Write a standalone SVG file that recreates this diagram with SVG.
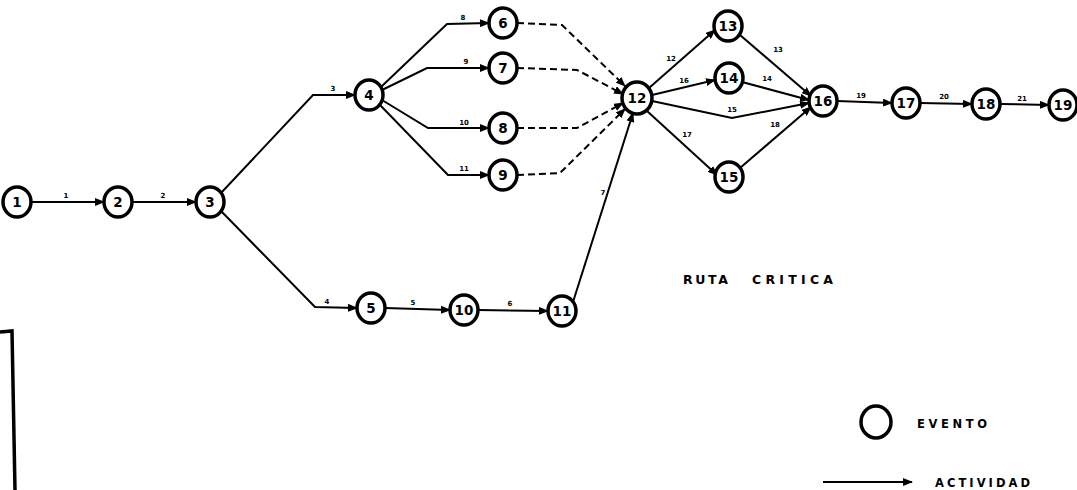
<svg xmlns="http://www.w3.org/2000/svg" width="1077" height="490" viewBox="0 0 1077 490">
<style>
.node ellipse{fill:#fff;stroke:#000;stroke-width:3.5}
.node text{font-family:"DejaVu Sans","Liberation Sans",sans-serif;font-weight:bold;font-size:13.5px;text-anchor:middle;fill:#000}
.edge{fill:none;stroke:#000;stroke-width:2;marker-end:url(#ah)}
.dash{fill:none;stroke:#000;stroke-width:2;stroke-dasharray:7 4;marker-end:url(#ah)}
.lbl{font-family:"DejaVu Sans","Liberation Sans",sans-serif;font-weight:bold;font-size:7px;text-anchor:middle;fill:#000}
.big{font-family:"DejaVu Sans","Liberation Sans",sans-serif;font-weight:bold;fill:#000}
</style>
<defs>
<marker id="ah" markerWidth="10" markerHeight="8" refX="9" refY="4" orient="auto" markerUnits="userSpaceOnUse">
<path d="M0,0 L10,4 L0,8 Z" fill="#000"/>
</marker>
</defs>
<rect width="1077" height="490" fill="#fff"/>
<g id="connectors">
<path class="edge" d="M31,202 L104,202"/>
<path class="edge" d="M132,202 L196,202"/>
<path class="edge" d="M221,193 L313,95 L355,95"/>
<path class="edge" d="M221,211 L315,307 L357,308"/>
<path class="edge" d="M385,308 L450,310"/>
<path class="edge" d="M478,310 L548,311"/>
<path class="edge" d="M573,302 L633,113"/>
<path class="edge" d="M381,87 L447,24 L489,23"/>
<path class="edge" d="M382,90 L427,68 L489,68"/>
<path class="edge" d="M382,100 L428,128 L489,128"/>
<path class="edge" d="M380,105 L448,175 L489,175"/>
<path class="dash" d="M517,23 L562,25 L625,86"/>
<path class="dash" d="M517,68 L577,70 L623,94"/>
<path class="dash" d="M517,128 L577,128 L623,103"/>
<path class="dash" d="M517,175 L560,173 L625,109"/>
<path class="edge" d="M649,88 L715,30"/>
<path class="edge" d="M652,95 L715,80"/>
<path class="edge" d="M652,101 L732,118 L809,103"/>
<path class="edge" d="M647,111 L717,175"/>
<path class="edge" d="M740,35 L811,96"/>
<path class="edge" d="M742,82 L809,100"/>
<path class="edge" d="M740,168 L811,107"/>
<path class="edge" d="M837,101 L892,103"/>
<path class="edge" d="M920,103 L972,104"/>
<path class="edge" d="M1000,104 L1049,105"/>
<text class="lbl" x="66" y="198">1</text>
<text class="lbl" x="163" y="198">2</text>
<text class="lbl" x="333" y="91">3</text>
<text class="lbl" x="327" y="304">4</text>
<text class="lbl" x="413" y="305">5</text>
<text class="lbl" x="510" y="306">6</text>
<text class="lbl" x="603" y="195">7</text>
<text class="lbl" x="463" y="20">8</text>
<text class="lbl" x="466" y="64">9</text>
<text class="lbl" x="464" y="125">10</text>
<text class="lbl" x="464" y="171">11</text>
<text class="lbl" x="671" y="61">12</text>
<text class="lbl" x="684" y="83">16</text>
<text class="lbl" x="732" y="112">15</text>
<text class="lbl" x="687" y="137">17</text>
<text class="lbl" x="778" y="52">13</text>
<text class="lbl" x="767" y="81">14</text>
<text class="lbl" x="775" y="127">18</text>
<text class="lbl" x="861" y="98">19</text>
<text class="lbl" x="944" y="99">20</text>
<text class="lbl" x="1022" y="101">21</text>
</g>
<g id="n1" class="node"><ellipse cx="17" cy="202" rx="14" ry="15"/><text x="17" y="207">1</text></g>
<g id="n2" class="node"><ellipse cx="118" cy="202" rx="14" ry="15"/><text x="118" y="207">2</text></g>
<g id="n3" class="node"><ellipse cx="210" cy="202" rx="14" ry="15"/><text x="210" y="207">3</text></g>
<g id="n4" class="node"><ellipse cx="369" cy="95" rx="14" ry="15"/><text x="369" y="100">4</text></g>
<g id="n5" class="node"><ellipse cx="371" cy="308" rx="14" ry="15"/><text x="371" y="313">5</text></g>
<g id="n6" class="node"><ellipse cx="503" cy="23" rx="14" ry="15"/><text x="503" y="28">6</text></g>
<g id="n7" class="node"><ellipse cx="503" cy="68" rx="14" ry="15"/><text x="503" y="73">7</text></g>
<g id="n8" class="node"><ellipse cx="503" cy="128" rx="14" ry="15"/><text x="503" y="133">8</text></g>
<g id="n9" class="node"><ellipse cx="503" cy="175" rx="14" ry="15"/><text x="503" y="180">9</text></g>
<g id="n10" class="node"><ellipse cx="464" cy="310" rx="14" ry="15"/><text x="464" y="315">10</text></g>
<g id="n11" class="node"><ellipse cx="562" cy="311" rx="14" ry="15"/><text x="562" y="316">11</text></g>
<g id="n12" class="node"><ellipse cx="637" cy="98" rx="15" ry="16"/><text x="637" y="103">12</text></g>
<g id="n13" class="node"><ellipse cx="728" cy="26" rx="14" ry="15"/><text x="728" y="31">13</text></g>
<g id="n14" class="node"><ellipse cx="729" cy="78" rx="14" ry="15"/><text x="729" y="83">14</text></g>
<g id="n15" class="node"><ellipse cx="729" cy="177" rx="14" ry="15"/><text x="729" y="182">15</text></g>
<g id="n16" class="node"><ellipse cx="823" cy="101" rx="14" ry="15"/><text x="823" y="106">16</text></g>
<g id="n17" class="node"><ellipse cx="906" cy="103" rx="14" ry="15"/><text x="906" y="108">17</text></g>
<g id="n18" class="node"><ellipse cx="986" cy="104" rx="14" ry="15"/><text x="986" y="109">18</text></g>
<g id="n19" class="node"><ellipse cx="1063" cy="105" rx="14" ry="15"/><text x="1063" y="110">19</text></g>
<g id="title">
<text class="big" x="683" y="284" font-size="12.5" textLength="45" lengthAdjust="spacing">RUTA</text>
<text class="big" x="752" y="284" font-size="12.5" textLength="81" lengthAdjust="spacing">CRITICA</text>
</g>
<g id="legend">
<ellipse cx="876" cy="422" rx="15" ry="16" fill="none" stroke="#000" stroke-width="3.5"/>
<text class="big" x="917" y="428" font-size="11.5" textLength="70" lengthAdjust="spacing">EVENTO</text>
<path class="edge" d="M823,482 L912,482"/>
<text class="big" x="935" y="487" font-size="11.5" textLength="95" lengthAdjust="spacing">ACTIVIDAD</text>
</g>
<path d="M0,332 L12,331 L15,490" fill="none" stroke="#000" stroke-width="3.5"/>
</svg>
